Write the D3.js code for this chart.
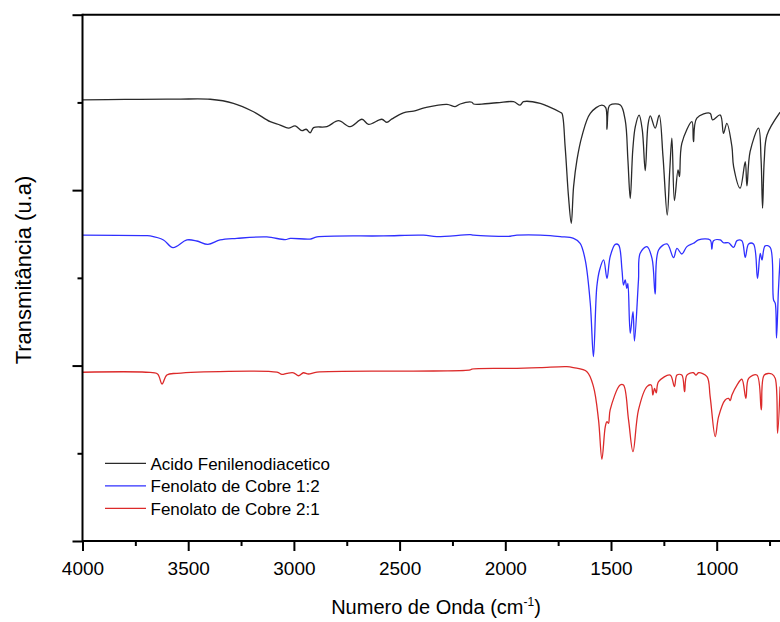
<!DOCTYPE html>
<html>
<head>
<meta charset="utf-8">
<script src="https://cdn.jsdelivr.net/npm/d3@7/dist/d3.min.js"></script>
<style>
  html, body { margin: 0; padding: 0; background: #fff; }
  svg { display: block; font-family: "Liberation Sans", Arial, sans-serif; }
</style>
</head>
<body>
<svg id="chart" width="780" height="622"></svg>
<script>
// FTIR spectra: wavenumber (cm-1) and transmittance (arbitrary units, stacked)
const acidoWn = [4000, 3800, 3600, 3537, 3396, 3286, 3191, 3112, 3065, 3026, 2994, 2962, 2942, 2923, 2907, 2844, 2789, 2734, 2678, 2647, 2584, 2560, 2536, 2482, 2434, 2379, 2276, 2237, 2213, 2158, 2150, 2040, 1961, 1930, 1914, 1835, 1803, 1740, 1732, 1717, 1701, 1688, 1677, 1661, 1638, 1598, 1543, 1525, 1519, 1512, 1504, 1456, 1433, 1420, 1409, 1397, 1385, 1367, 1352, 1338, 1325, 1314, 1291, 1272, 1254, 1234, 1222, 1212, 1200, 1183, 1176, 1165, 1117, 1110, 1094, 1031, 1020, 983, 968, 952, 928, 920, 889, 865, 857, 842, 802, 790, 783, 775, 762, 700];
const acidoT = [2.514, 2.517, 2.519, 2.519, 2.518, 2.495, 2.447, 2.390, 2.371, 2.353, 2.366, 2.339, 2.347, 2.327, 2.356, 2.362, 2.396, 2.362, 2.404, 2.375, 2.404, 2.387, 2.406, 2.441, 2.451, 2.470, 2.489, 2.476, 2.491, 2.501, 2.491, 2.498, 2.504, 2.485, 2.504, 2.495, 2.480, 2.444, 2.438, 2.248, 1.963, 1.811, 2.020, 2.172, 2.305, 2.438, 2.485, 2.470, 2.347, 2.468, 2.485, 2.485, 2.400, 2.172, 1.953, 2.229, 2.362, 2.428, 2.343, 2.111, 2.371, 2.423, 2.353, 2.428, 2.191, 1.858, 2.115, 2.296, 1.940, 2.115, 2.077, 2.267, 2.390, 2.276, 2.410, 2.438, 2.400, 2.428, 2.324, 2.381, 2.248, 2.134, 2.011, 2.162, 2.024, 2.219, 2.353, 2.172, 1.897, 2.172, 2.314, 2.444];

const cobre12Wn = [4000, 3700, 3680, 3617, 3572, 3506, 3459, 3407, 3349, 3270, 3128, 3041, 3017, 2923, 2891, 2576, 2387, 2324, 2166, 2150, 1977, 1945, 1835, 1788, 1740, 1677, 1646, 1622, 1598, 1583, 1567, 1554, 1535, 1519, 1504, 1480, 1464, 1448, 1441, 1433, 1425, 1420, 1409, 1396, 1389, 1370, 1362, 1330, 1306, 1291, 1275, 1235, 1204, 1188, 1165, 1141, 1110, 1086, 1031, 1023, 1015, 983, 968, 944, 920, 904, 881, 865, 849, 826, 807, 794, 786, 771, 747, 731, 723, 717, 708, 700];
const cobre12T = [1.744, 1.741, 1.739, 1.716, 1.672, 1.716, 1.710, 1.691, 1.716, 1.725, 1.733, 1.718, 1.725, 1.721, 1.733, 1.739, 1.743, 1.735, 1.746, 1.743, 1.737, 1.743, 1.744, 1.741, 1.735, 1.725, 1.697, 1.602, 1.355, 1.051, 1.450, 1.545, 1.602, 1.497, 1.621, 1.691, 1.687, 1.545, 1.459, 1.488, 1.440, 1.469, 1.184, 1.307, 1.140, 1.488, 1.640, 1.678, 1.611, 1.408, 1.659, 1.693, 1.615, 1.668, 1.636, 1.678, 1.697, 1.716, 1.716, 1.663, 1.712, 1.716, 1.700, 1.700, 1.674, 1.712, 1.712, 1.617, 1.693, 1.693, 1.497, 1.640, 1.602, 1.682, 1.674, 1.374, 1.355, 1.157, 1.431, 1.611];

const cobre21Wn = [4000, 3700, 3645, 3624, 3601, 3553, 3080, 3057, 3033, 3002, 2978, 2955, 2931, 2891, 2340, 2166, 2158, 1945, 1835, 1709, 1677, 1614, 1583, 1559, 1543, 1527, 1519, 1512, 1504, 1457, 1441, 1417, 1396, 1370, 1330, 1310, 1302, 1294, 1286, 1275, 1220, 1200, 1188, 1165, 1152, 1141, 1110, 1098, 1086, 1046, 1031, 1007, 991, 960, 944, 936, 928, 904, 881, 862, 849, 810, 789, 775, 739, 723, 712, 700];
const cobre21T = [0.962, 0.962, 0.952, 0.895, 0.946, 0.956, 0.962, 0.950, 0.956, 0.959, 0.942, 0.959, 0.952, 0.963, 0.969, 0.975, 0.980, 0.984, 0.988, 0.994, 0.988, 0.965, 0.880, 0.690, 0.466, 0.652, 0.680, 0.671, 0.747, 0.889, 0.889, 0.690, 0.509, 0.747, 0.880, 0.889, 0.832, 0.870, 0.845, 0.908, 0.946, 0.880, 0.946, 0.946, 0.851, 0.946, 0.959, 0.946, 0.959, 0.937, 0.823, 0.595, 0.709, 0.804, 0.813, 0.800, 0.832, 0.889, 0.922, 0.813, 0.927, 0.946, 0.747, 0.946, 0.952, 0.927, 0.614, 0.880];

const seriesNames = ["Acido Fenilenodiacetico", "Fenolato de Cobre 1:2", "Fenolato de Cobre 2:1"];
const seriesColors = ["#2a2a2a", "#2f2fff", "#dc2a2a"];

const xMajorTicks = [4000, 3500, 3000, 2500, 2000, 1500, 1000];
const xMinorTicks = [3750, 3250, 2750, 2250, 1750, 1250, 750];
const yMajorTicks = [0, 1, 2, 3];
const yMinorTicks = [0.5, 1.5, 2.5];

const xTitle = "Numero de Onda (cm";
const yTitle = "Transmitância (u.a)";

const svg = d3.select("#chart");
const W = 780;
const plotLeft = 82.5, plotTop = 14.7, plotBottom = 541;

const x = d3.scaleLinear().domain([4000, 400]).range([plotLeft, plotLeft + 3600 * 0.2114]);
const y = d3.scaleLinear().domain([0, 3]).range([plotBottom, plotTop]);

// spectra
const series = [
  d3.zip(acidoWn, acidoT),
  d3.zip(cobre12Wn, cobre12T),
  d3.zip(cobre21Wn, cobre21T)
];
const line = d3.line()
  .x(d => x(d[0]))
  .y(d => y(d[1]))
  .curve(d3.curveCatmullRom.alpha(0.5));

svg.append("g")
  .selectAll("path")
  .data(series)
  .join("path")
  .attr("d", line)
  .attr("fill", "none")
  .attr("stroke", (d, i) => seriesColors[i])
  .attr("stroke-width", 1.3)
  .attr("stroke-linejoin", "round");

// frame: top border
svg.append("line")
  .attr("x1", plotLeft).attr("x2", W + 10)
  .attr("y1", plotTop).attr("y2", plotTop)
  .attr("stroke", "#000").attr("stroke-width", 2);

// bottom axis
const gx = svg.append("g").attr("transform", `translate(0,${plotBottom})`);
gx.call(d3.axisBottom(x).tickValues(xMajorTicks).tickSize(10).tickPadding(10.5).tickFormat(d3.format("d")));
gx.append("g").call(d3.axisBottom(x).tickValues(xMinorTicks).tickSize(5).tickFormat(""));
gx.selectAll(".domain").remove();
gx.selectAll("line").attr("stroke", "#000").attr("stroke-width", 2);
gx.selectAll("text")
  .attr("fill", "#000")
  .style("font-size", "19px")
  .style("font-family", "'Liberation Sans', Arial, sans-serif");
gx.append("line")
  .attr("x1", plotLeft).attr("x2", W + 10)
  .attr("y1", 0).attr("y2", 0)
  .attr("stroke", "#000").attr("stroke-width", 2);

// left axis
const gy = svg.append("g").attr("transform", `translate(${plotLeft},0)`);
gy.call(d3.axisLeft(y).tickValues(yMajorTicks).tickSize(10).tickFormat(""));
gy.append("g").call(d3.axisLeft(y).tickValues(yMinorTicks).tickSize(5).tickFormat(""));
gy.selectAll(".domain").remove();
gy.selectAll("line").attr("stroke", "#000").attr("stroke-width", 2);
gy.append("line")
  .attr("x1", 0).attr("x2", 0)
  .attr("y1", plotTop - 1).attr("y2", plotBottom + 1)
  .attr("stroke", "#000").attr("stroke-width", 2);

// axis titles
const xt = svg.append("text")
  .attr("x", 436).attr("y", 614)
  .attr("text-anchor", "middle")
  .style("font-size", "20px")
  .attr("fill", "#000");
xt.append("tspan").text(xTitle);
xt.append("tspan").attr("dy", -8).style("font-size", "12px").text("-1");
xt.append("tspan").attr("dy", 8).text(")");

svg.append("text")
  .attr("transform", "translate(31,270) rotate(-90)")
  .attr("text-anchor", "middle")
  .style("font-size", "22px")
  .attr("fill", "#000")
  .text(yTitle);

// legend
const legend = svg.append("g").attr("transform", "translate(105,463.3)");
const items = legend.selectAll("g")
  .data(seriesNames)
  .join("g")
  .attr("transform", (d, i) => `translate(0,${i * 22.5})`);
items.append("line")
  .attr("x1", 0).attr("x2", 41)
  .attr("y1", 0).attr("y2", 0)
  .attr("stroke", (d, i) => seriesColors[i])
  .attr("stroke-width", 1.3);
items.append("text")
  .attr("x", 45.5).attr("y", 6.3)
  .style("font-size", "17px")
  .attr("fill", "#000")
  .text(d => d);
</script>
</body>
</html>
